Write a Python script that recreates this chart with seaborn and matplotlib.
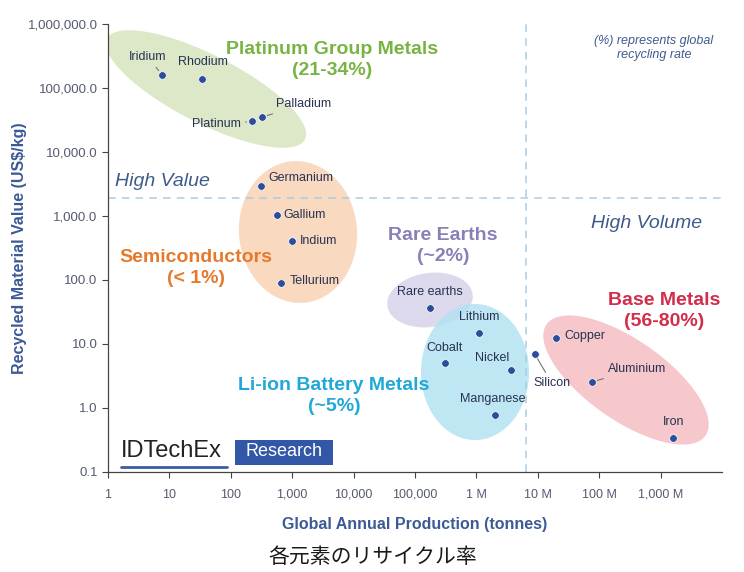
import matplotlib
matplotlib.use("Agg")
import matplotlib.pyplot as plt
import matplotlib.ticker as mticker
import numpy as np
import pandas as pd
import seaborn as sns

# ---- data ----
elements = ["Iridium", "Rhodium", "Platinum", "Palladium",
            "Germanium", "Gallium", "Indium", "Tellurium",
            "Rare earths", "Lithium", "Cobalt", "Nickel", "Manganese",
            "Silicon", "Copper", "Aluminium", "Iron"]
production = [7.6, 34, 220, 322,
              310, 565, 990, 657,
              175000, 1.1e6, 3.08e5, 3.6e6, 2.0e6,
              8.9e6, 2.0e7, 7.6e7, 1.6e9]
value = [160000, 138000, 30000, 35000,
         2950, 1040, 410, 90,
         36.5, 14.8, 5.0, 3.9, 0.78,
         7.0, 12.4, 2.55, 0.34]

x_ticks = [1, 10, 100, 1e3, 1e4, 1e5, 1e6, 1e7, 1e8, 1e9]
x_tick_labels = ["1", "10", "100", "1,000", "10,000", "100,000",
                 "1 M", "10 M", "100 M", "1,000 M"]
y_ticks = [0.1, 1, 10, 100, 1e3, 1e4, 1e5, 1e6]
y_tick_labels = ["0.1", "1.0", "10.0", "100.0", "1,000.0",
                 "10,000.0", "100,000.0", "1,000,000.0"]

high_value_line = 1900     # US$/kg
high_volume_line = 6.5e6   # tonnes

df = pd.DataFrame({"element": elements, "production": production, "value": value})

# label offsets (pixels, relative to the point), alignment, leader line
label_style = {
    "Iridium": (-14, 18, "center", True),
    "Rhodium": (1, 17, "center", False),
    "Platinum": (-11, -3, "right", True),
    "Palladium": (14, 13, "left", True),
    "Germanium": (7, 8, "left", False),
    "Gallium": (6, 0, "left", False),
    "Indium": (8, 0, "left", False),
    "Tellurium": (9, 2, "left", False),
    "Rare earths": (0, 16, "center", False),
    "Lithium": (0, 16, "center", False),
    "Cobalt": (0, 15, "center", False),
    "Nickel": (-18, 12, "center", False),
    "Manganese": (-2, 16, "center", False),
    "Silicon": (17, -29, "center", True),
    "Copper": (8, 2, "left", False),
    "Aluminium": (16, 13, "left", True),
    "Iron": (0, 16, "center", False),
}

# ---- figure ----
sns.set_theme(style="white")
plt.rcParams["font.family"] = ["Liberation Sans", "Noto Sans CJK JP", "DejaVu Sans"]

fig = plt.figure(figsize=(7.44, 5.72), dpi=100)
L, R, T, B = 108, 722, 24, 472  # axes box in reference pixels
ax = fig.add_axes([L / 744, (572 - B) / 572, (R - L) / 744, (B - T) / 572])


def at(px, py):
    """reference pixel -> axes fraction"""
    return (px - L) / (R - L), (B - py) / (B - T)


def ellipse(cx, cy, a, b, angle, color, alpha=1.0):
    t = np.linspace(0, 2 * np.pi, 200)
    th = np.deg2rad(angle)
    ex = a * np.cos(t)
    ey = b * np.sin(t)
    px = cx + ex * np.cos(th) - ey * np.sin(th)
    py = cy - (ex * np.sin(th) + ey * np.cos(th))
    fx, fy = at(px, py)
    ax.fill(fx, fy, color=color, alpha=alpha, lw=0, transform=ax.transAxes, zorder=1)


ax.set_xscale("log")
ax.set_yscale("log")
ax.set_xlim(1, 1e10)
ax.set_ylim(0.1, 1e6)

# group ellipses
ellipse(206, 89, 111, 34, -27, "#dde8c9")
ellipse(298, 232, 71, 59, 95, "#f9d9c0")
ellipse(430, 300, 43, 27, 8, "#dcd9ec")
ellipse(475, 372, 68, 54, 90, "#b3e2f2", alpha=0.85)
ellipse(626, 380, 97, 40, -35, "#f6c8cc")

# quadrant dividers
ax.axhline(high_value_line, color="#a8cde4", lw=1.1, ls=(0, (5, 4)), zorder=2)
ax.axvline(high_volume_line, color="#a8cde4", lw=1.1, ls=(0, (5, 4)), zorder=2)

sns.scatterplot(data=df, x="production", y="value", ax=ax, s=30,
                color="#2c4d9c", edgecolor="white", linewidth=0.5, zorder=5)

for name, xv, yv in zip(elements, production, value):
    dx, dy, ha, lead = label_style[name]
    arrow = None
    if lead:
        arrow = dict(arrowstyle="-", color="#777777", lw=0.8, shrinkA=1, shrinkB=4)
    ax.annotate(name, (xv, yv), xytext=(dx, dy), textcoords="offset pixels",
                ha=ha, va="center", fontsize=9, color="#283252",
                arrowprops=arrow, zorder=6)

# group titles
groups = [
    ("Platinum Group Metals\n(21-34%)", 332, 60, "#78b443"),
    ("Semiconductors\n(< 1%)", 196, 268, "#e57a2c"),
    ("Rare Earths\n(~2%)", 443, 246, "#8a80b8"),
    ("Li-ion Battery Metals\n(~5%)", 334, 396, "#1fa8d8"),
    ("Base Metals\n(56-80%)", 664, 311, "#d32d4b"),
]
for txt, px, py, col in groups:
    ax.text(*at(px, py), txt, transform=ax.transAxes, ha="center", va="center",
            fontsize=14, fontweight="bold", color=col, linespacing=1.3, zorder=7)

ax.text(*at(115, 182), "High Value", transform=ax.transAxes, ha="left", va="center",
        fontsize=14, style="italic", color="#3e5b8c")
ax.text(*at(647, 224), "High Volume", transform=ax.transAxes, ha="center", va="center",
        fontsize=14, style="italic", color="#3e5b8c")
ax.text(*at(654, 48), "(%) represents global\nrecycling rate", transform=ax.transAxes,
        ha="center", va="center", fontsize=9, style="italic", color="#3e5b8c")

# IDTechEx logo
ax.text(*at(121, 451), "IDTechEx", transform=ax.transAxes, ha="left", va="center",
        fontsize=17, color="#222222", family=["Liberation Sans Narrow", "Liberation Sans"])
ax.plot([at(121, 0)[0], at(227, 0)[0]], [at(0, 467)[1]] * 2, transform=ax.transAxes,
        color="#3b5ca5", lw=2, clip_on=False)
bx0, by0 = at(235, 465)
bx1, by1 = at(333, 440)
ax.add_patch(plt.Rectangle((bx0, by0), bx1 - bx0, by1 - by0, transform=ax.transAxes,
                           color="#3157a6", lw=0))
ax.text(*at(284, 452), "Research", transform=ax.transAxes, ha="center", va="center",
        fontsize=13, color="white", family=["Liberation Sans Narrow", "Liberation Sans"])

# axes styling
ax.xaxis.set_major_locator(mticker.FixedLocator(x_ticks))
ax.xaxis.set_major_formatter(mticker.FixedFormatter(x_tick_labels))
ax.xaxis.set_minor_locator(mticker.NullLocator())
ax.yaxis.set_major_locator(mticker.FixedLocator(y_ticks))
ax.yaxis.set_major_formatter(mticker.FixedFormatter(y_tick_labels))
ax.yaxis.set_minor_locator(mticker.NullLocator())
ax.tick_params(axis="x", labelsize=9, colors="#555a70", length=4, width=0.8,
               direction="out", bottom=True, pad=8)
ax.tick_params(axis="y", labelsize=9.5, colors="#555a70", length=4, width=0.8,
               direction="out", left=True)
ax.tick_params(axis="both", color="#444444")
sns.despine(ax=ax)
for sp in ["left", "bottom"]:
    ax.spines[sp].set_color("#444444")
    ax.spines[sp].set_linewidth(0.9)

ax.set_xlabel("Global Annual Production (tonnes)", fontsize=11.5, fontweight="bold",
              color="#3c5a96", labelpad=12)
ax.set_ylabel("Recycled Material Value (US$/kg)", fontsize=11.5, fontweight="bold",
              color="#3c5a96", labelpad=0.5)

fig.text(373 / 744, (572 - 557) / 572, "各元素のリサイクル率", ha="center", va="center",
         fontsize=15, color="#1a1a1a")

fig.savefig("out.png", dpi=100, facecolor="white")
